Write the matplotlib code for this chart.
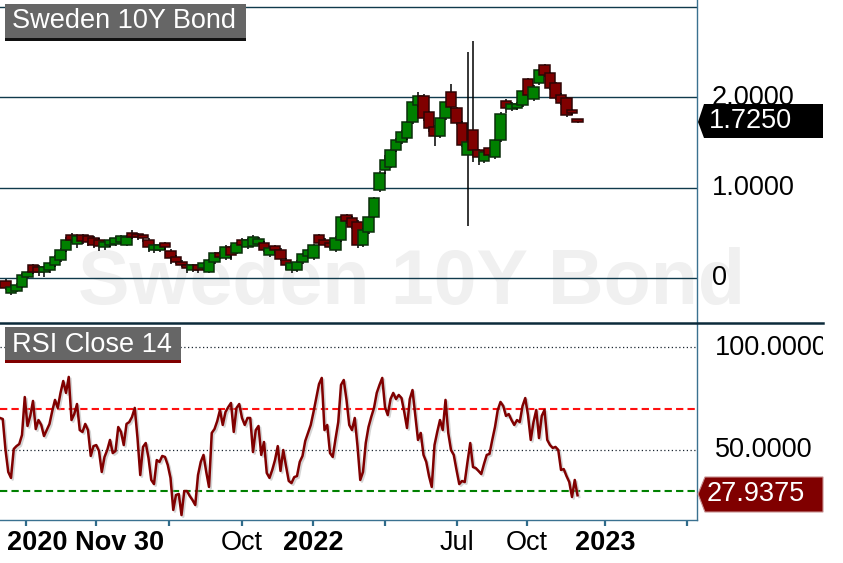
import numpy as np
import matplotlib
matplotlib.use('Agg')
import matplotlib.pyplot as plt
from matplotlib.patches import Rectangle, Polygon
from matplotlib.lines import Line2D
import matplotlib.patheffects as pe
import matplotlib.transforms as mtransforms

# ---------------- data ----------------
open_ = [-0.033, -0.166, -0.144, -0.099, 0.011, 0.144, 0.122, 0.066, 0.088, 0.144,
         0.199, 0.309, 0.475, 0.376, 0.475, 0.464, 0.442, 0.420, 0.343, 0.365,
         0.376, 0.398, 0.365, 0.497, 0.486, 0.475, 0.420, 0.309, 0.309, 0.387,
         0.298, 0.232, 0.177, 0.144, 0.088, 0.144, 0.110, 0.066, 0.177, 0.276,
         0.221, 0.343, 0.276, 0.420, 0.343, 0.354, 0.376, 0.387, 0.254, 0.354,
         0.309, 0.199, 0.088, 0.088, 0.177, 0.243, 0.221, 0.475, 0.420, 0.387,
         0.309, 0.420, 0.696, 0.663, 0.619, 0.365, 0.508, 0.674, 0.972, 1.193,
         1.227, 1.414, 1.503, 1.547, 1.724, 1.912, 2.011, 1.834, 1.669, 1.569,
         1.768, 2.055, 1.878, 1.713, 1.359, 1.635, 1.414, 1.293, 1.436, 1.337,
         1.525, 1.956, 1.867, 1.878, 1.912, 2.199, 1.978, 2.155, 2.354, 2.265,
         2.155, 2.022, 1.989, 1.856, 1.757]
close = [-0.110, -0.099, -0.077, 0.033, 0.066, 0.066, 0.066, 0.122, 0.166, 0.232,
         0.309, 0.420, 0.420, 0.464, 0.409, 0.398, 0.365, 0.354, 0.398, 0.420,
         0.442, 0.464, 0.453, 0.453, 0.453, 0.442, 0.343, 0.365, 0.365, 0.343,
         0.221, 0.177, 0.144, 0.110, 0.144, 0.088, 0.166, 0.199, 0.276, 0.232,
         0.343, 0.254, 0.387, 0.365, 0.420, 0.453, 0.431, 0.309, 0.331, 0.309,
         0.210, 0.144, 0.166, 0.177, 0.265, 0.309, 0.365, 0.387, 0.365, 0.343,
         0.442, 0.674, 0.630, 0.564, 0.365, 0.530, 0.674, 0.884, 1.160, 1.304,
         1.414, 1.525, 1.613, 1.724, 1.945, 2.011, 1.768, 1.657, 1.569, 1.768,
         1.945, 1.890, 1.713, 1.470, 1.503, 1.414, 1.337, 1.392, 1.359, 1.525,
         1.812, 1.878, 1.923, 1.923, 2.066, 2.022, 2.110, 2.298, 2.243, 2.099,
         1.989, 1.934, 1.801, 1.823, 1.725]
high = [-0.01, -0.08, -0.06, 0.05, 0.08, 0.16, 0.14, 0.13, 0.18, 0.25,
        0.33, 0.45, 0.50, 0.48, 0.49, 0.48, 0.46, 0.44, 0.42, 0.44,
        0.46, 0.48, 0.47, 0.53, 0.50, 0.49, 0.44, 0.38, 0.39, 0.40,
        0.32, 0.25, 0.20, 0.16, 0.16, 0.16, 0.18, 0.21, 0.29, 0.30,
        0.36, 0.36, 0.40, 0.44, 0.44, 0.47, 0.45, 0.41, 0.35, 0.37,
        0.33, 0.22, 0.18, 0.20, 0.28, 0.32, 0.38, 0.49, 0.44, 0.40,
        0.46, 0.69, 0.71, 0.69, 0.64, 0.55, 0.69, 0.90, 1.18, 1.36,
        1.43, 1.55, 1.63, 1.74, 1.96, 2.05, 2.03, 1.85, 1.69, 1.78,
        1.96, 2.14, 1.89, 1.73, 2.50, 2.62, 1.43, 1.41, 1.45, 1.54,
        1.83, 1.98, 1.94, 1.95, 2.08, 2.21, 2.13, 2.31, 2.37, 2.28,
        2.17, 2.04, 2.00, 1.87, 1.76]
low = [-0.13, -0.19, -0.16, -0.11, 0.00, 0.04, 0.02, 0.01, 0.05, 0.12,
       0.18, 0.29, 0.39, 0.33, 0.38, 0.35, 0.33, 0.30, 0.31, 0.34,
       0.35, 0.38, 0.35, 0.43, 0.42, 0.40, 0.29, 0.28, 0.29, 0.31,
       0.15, 0.15, 0.12, 0.06, 0.07, 0.06, 0.08, 0.05, 0.15, 0.21,
       0.20, 0.20, 0.26, 0.34, 0.32, 0.34, 0.36, 0.29, 0.23, 0.28,
       0.19, 0.09, 0.06, 0.07, 0.16, 0.22, 0.20, 0.36, 0.35, 0.32,
       0.29, 0.40, 0.60, 0.54, 0.33, 0.34, 0.49, 0.66, 0.95, 1.15,
       1.21, 1.39, 1.48, 1.52, 1.70, 1.89, 1.74, 1.61, 1.46, 1.55,
       1.75, 1.87, 1.69, 1.45, 0.57, 1.28, 1.25, 1.27, 1.34, 1.32,
       1.50, 1.82, 1.84, 1.86, 1.89, 2.00, 1.96, 2.13, 2.22, 2.08,
       1.97, 1.91, 1.78, 1.80, 1.71]
rsi = [65.6, 65.1, 50.0, 39.3, 36.4, 50.5, 51.9, 52.9, 57.3, 75.8,
       61.7, 66.6, 73.9, 60.2, 64.6, 62.2, 56.8, 59.7, 62.7, 69.0,
       74.4, 70.5, 77.8, 83.6, 77.8, 85.6, 64.6, 67.5, 72.4, 59.7,
       58.8, 62.7, 59.7, 47.1, 51.9, 52.4, 49.5, 39.3, 46.6, 50.0,
       54.9, 48.5, 49.5, 61.2, 58.8, 52.4, 62.7, 63.6, 66.1, 70.5,
       55.8, 37.8, 51.5, 53.4, 46.1, 35.4, 33.4, 45.1, 44.2, 47.1,
       46.6, 42.7, 36.4, 20.8, 28.1, 28.6, 18.3, 30.0, 30.0, 27.6,
       25.6, 23.2, 37.8, 44.2, 47.6, 39.3, 32.0, 58.3, 60.2, 64.1,
       69.5, 62.2, 68.5, 70.9, 72.9, 58.8, 70.5, 72.4, 65.6, 62.2,
       65.6, 65.6, 49.0, 59.7, 61.7, 47.6, 53.9, 38.8, 36.4, 40.3,
       45.1, 51.9, 39.8, 50.0, 42.2, 34.9, 33.9, 36.8, 37.3, 44.2,
       47.1, 54.4, 58.3, 62.2, 68.5, 75.3, 82.1, 85.1, 59.7, 62.2,
       48.5, 46.6, 55.4, 63.6, 81.7, 84.1, 74.4, 62.2, 59.7, 65.6,
       51.9, 35.4, 39.3, 53.4, 61.2, 66.1, 70.5, 77.8, 81.7, 85.1,
       70.9, 67.0, 74.8, 77.8, 74.8, 76.8, 75.3, 68.5, 60.7, 74.8,
       79.2, 67.0, 54.9, 58.3, 47.6, 44.2, 37.3, 32.0, 52.4, 58.8,
       64.6, 59.7, 74.4, 58.3, 50.0, 47.6, 40.3, 33.4, 34.9, 34.4,
       44.2, 53.4, 41.7, 41.2, 39.8, 38.3, 43.2, 47.6, 48.1, 54.9,
       61.2, 69.5, 73.4, 71.4, 66.6, 67.5, 64.6, 62.2, 64.6, 63.6,
       71.4, 75.3, 67.0, 54.9, 63.6, 69.5, 55.8, 66.6, 69.5, 54.9,
       52.4, 51.0, 51.5, 50.0, 40.3, 40.7, 37.3, 34.4, 27.1, 35.4,
       27.94]

price_levels = [0, 1, 2, 3]
price_labels = ['0', '1.0000', '2.0000']
rsi_labels = ['50.0000', '100.0000']
overbought, oversold = 70, 30
last_price = '1.7250'
last_rsi = '27.9375'
title_main = 'Sweden 10Y Bond'
title_rsi = 'RSI Close 14'
date_ticks = [9.45, 34.9, 61.5, 88.0, 113.8, 140.0, 166.2, 191.6, 220.0, 249.8]
date_labels = [('2020 Nov 30', 'bold'), ('Oct', 'normal'), ('2022', 'bold'),
               ('Jul', 'normal'), ('Oct', 'normal'), ('2023', 'bold')]
date_label_pos = [None, 88.0, 113.8, 166.2, 191.6, 220.0]

# ---------------- layout ----------------
W, H = 843, 563
FONT = 'Liberation Sans'
plt.rcParams['font.family'] = [FONT, 'DejaVu Sans']


def fx(x):
    return x / W


def fy(y):
    return 1 - y / H


fig = plt.figure(figsize=(W / 100, H / 100), dpi=100)
fig.patch.set_facecolor('white')

XMAX = 697 / 2.75
ax = fig.add_axes([0, fy(323), fx(697), 323 / H])
ax2 = fig.add_axes([0, fy(520), fx(697), 197 / H])
for a in (ax, ax2):
    a.set_facecolor('none')
    a.set_xlim(0, XMAX)
    for s in a.spines.values():
        s.set_visible(False)
    a.spines['right'].set_visible(True)
    a.spines['right'].set_color('#3a7190')
    a.spines['right'].set_linewidth(1.0)
    a.set_yticks([])

ax.set_ylim((278 - 323) / 90.5, 278 / 90.5)
ax.set_xticks([])

# watermark (behind everything)
fig.text(fx(411), fy(304), title_main, fontsize=55.5, fontweight='bold',
         color='#f0f0f0', ha='center', va='baseline', zorder=-1)

for lv in price_levels:
    ax.axhline(lv, color='#103a4c', lw=1.0, zorder=1)

# candles
n = len(close)
cw = 3.9
for i in range(n):
    cx = 2 * i + 2
    o, c, h, l = open_[i], close[i], high[i], low[i]
    up = c >= o
    fc = '#008000' if up else '#800000'
    ec = '#0b2f0b' if up else '#2e0505'
    z = 2 + i * 0.01
    ax.plot([cx, cx], [l, h], color='black', lw=1.1, zorder=z,
            solid_capstyle='butt')
    ax.add_patch(Rectangle((cx - cw / 2, min(o, c)), cw, max(abs(c - o), 0.015),
                           facecolor=fc, edgecolor=ec, lw=1.1, zorder=z + 0.005))

# RSI panel
ax2.set_ylim(15.9, 111.86)
ax2.axhline(100, color='#1a2530', lw=0.9, linestyle=(0, (1, 2)), zorder=1)
ax2.axhline(50, color='#1a2530', lw=0.9, linestyle=(0, (1, 2)), zorder=1)
ax2.axhline(overbought, color='#ff1010', lw=1.5, linestyle=(0, (3.5, 2)), zorder=1)
ax2.axhline(oversold, color='#008000', lw=1.5, linestyle=(0, (3.5, 2)), zorder=1)
xr = np.arange(len(rsi))
ax2.plot(xr, rsi, color='#800000', lw=1.8, zorder=3,
         path_effects=[pe.SimpleLineShadow(offset=(1.2, -1.2), shadow_color='#aaaaaa', alpha=0.5),
                       pe.Normal()])
ax2.spines['bottom'].set_visible(True)
ax2.spines['bottom'].set_color('#3a7190')
ax2.spines['bottom'].set_linewidth(1.0)
ax2.set_xticks(date_ticks)
ax2.tick_params(axis='x', direction='out', length=4.5, width=1.6, color='#2f6b8a',
                labelbottom=False)

# separator line between panels
fig.add_artist(Line2D([0, fx(823)], [fy(323), fy(323)], color='#0c2a3a', lw=1.8,
                      transform=fig.transFigure, zorder=10))

# title boxes
fig.add_artist(Rectangle((fx(5), fy(38)), fx(241), 34 / H, transform=fig.transFigure,
                         facecolor='#666666', edgecolor='none', zorder=11))
fig.add_artist(Rectangle((fx(5), fy(41)), fx(241), 3 / H, transform=fig.transFigure,
                         facecolor='#111111', edgecolor='none', zorder=11))
fig.text(fx(12), fy(28), title_main, color='white', fontsize=19.5, ha='left',
         va='baseline', zorder=12)

fig.add_artist(Rectangle((fx(5), fy(360)), fx(176), 33 / H, transform=fig.transFigure,
                         facecolor='#666666', edgecolor='none', zorder=11))
fig.add_artist(Rectangle((fx(5), fy(363)), fx(176), 3 / H, transform=fig.transFigure,
                         facecolor='#800000', edgecolor='none', zorder=11))
fig.text(fx(12), fy(352), title_rsi, color='white', fontsize=19.5, ha='left',
         va='baseline', zorder=12)

# right-side price labels
price_baselines = {'0': 285, '1.0000': 195, '2.0000': 105}
for lab in price_labels:
    fig.text(fx(712), fy(price_baselines[lab]), lab, fontsize=19.5, color='black',
             ha='left', va='baseline', zorder=12)

clip = Rectangle((0, 0), fx(823), 1, transform=fig.transFigure)
rsi_baselines = {'50.0000': 457, '100.0000': 355}
for lab in rsi_labels:
    t = fig.text(fx(715), fy(rsi_baselines[lab]), lab, fontsize=19.5, color='black',
                 ha='left', va='baseline', zorder=12)
    t.set_clip_path(clip)
    t.set_clip_on(True)

# last price tag
fig.add_artist(Polygon([(fx(698), fy(122)), (fx(704), fy(104)), (fx(823), fy(104)),
                        (fx(823), fy(138)), (fx(704), fy(138))], closed=True,
                       transform=fig.transFigure, facecolor='black', edgecolor='none',
                       zorder=11))
fig.text(fx(709), fy(128), last_price, color='white', fontsize=19.5, ha='left',
         va='baseline', zorder=12)

# last RSI tag
fig.add_artist(Polygon([(fx(698), fy(494)), (fx(705), fy(477)), (fx(823), fy(477)),
                        (fx(823), fy(512)), (fx(705), fy(512))], closed=True,
                       transform=fig.transFigure, facecolor='#800000',
                       edgecolor='#c89090', lw=0.8, zorder=11))
fig.text(fx(707), fy(501), last_rsi, color='white', fontsize=19.5, ha='left',
         va='baseline', zorder=12)

# date labels (baseline at y=550 px)
date_tr = mtransforms.blended_transform_factory(ax2.transData, fig.transFigure)
for (lab, wt), pos in zip(date_labels, date_label_pos):
    if pos is None:
        fig.text(fx(7), fy(550), lab, fontsize=19.5, fontweight=wt, color='black',
                 ha='left', va='baseline')
    else:
        ax2.text(pos, fy(550), lab, transform=date_tr, fontsize=19.5,
                 fontweight=wt, color='black', ha='center', va='baseline',
                 clip_on=False)

fig.savefig('out.png', dpi=100, facecolor='white')
